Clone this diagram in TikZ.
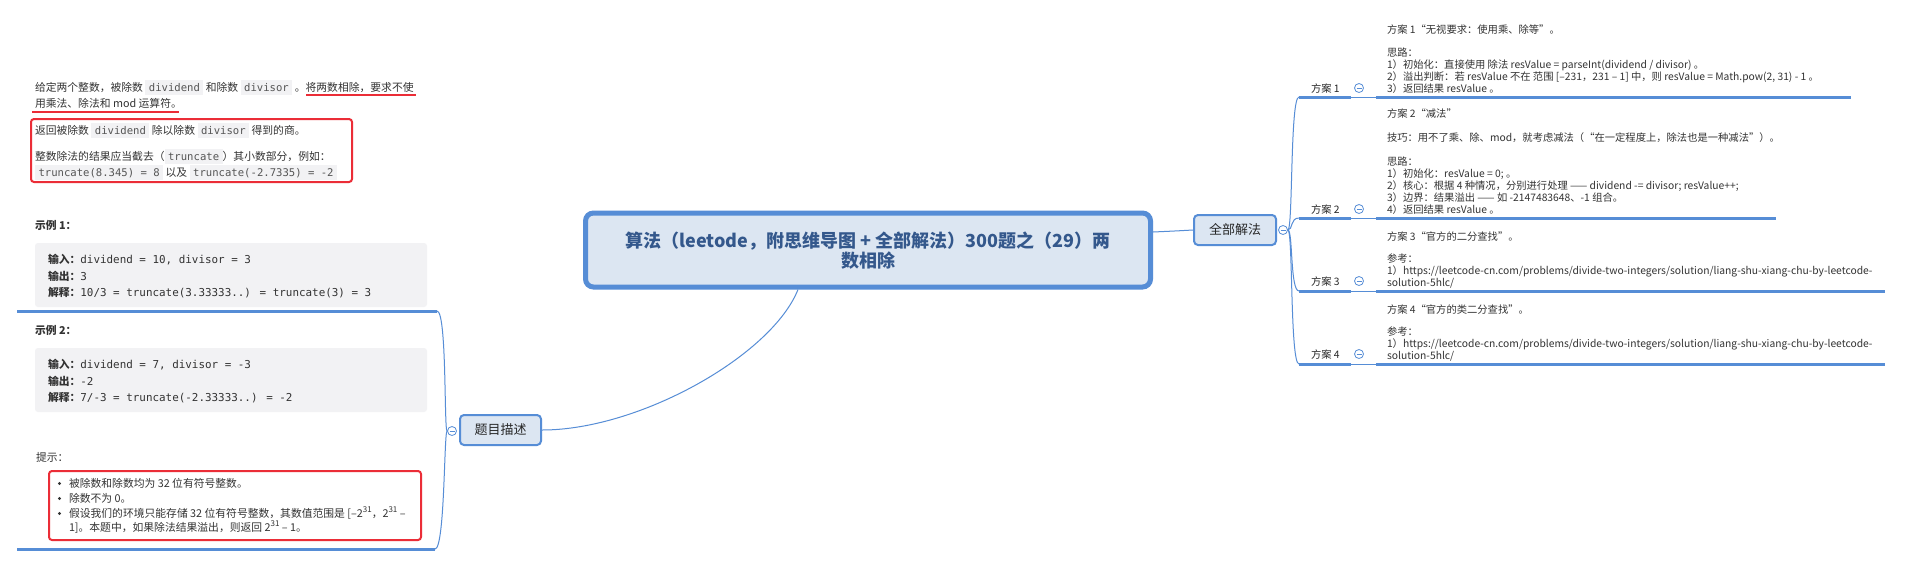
\documentclass[tikz,border=0pt]{standalone}
\usepackage{fontspec}
\setmainfont{Noto Sans CJK SC}
\newfontfamily\monof{DejaVu Sans Mono}
\definecolor{mmblue}{RGB}{86,141,214}
\definecolor{mmfill}{RGB}{220,230,242}
\definecolor{titleblue}{RGB}{52,88,140}
\definecolor{txt}{RGB}{51,51,51}
\definecolor{codetxt}{RGB}{85,85,85}
\definecolor{codebg}{RGB}{242,242,244}
\definecolor{redl}{RGB}{235,45,55}
\newcommand\code[1]{{\setlength\fboxsep{0pt}\colorbox{codebg}{\rule[-4pt]{0pt}{15pt}\hspace{3.5pt}{\monof\fontsize{10.6}{12}\selectfont\color{codetxt}#1}\hspace{3.5pt}}}}
\newcommand\sups[1]{\raisebox{4.5pt}{\fontsize{8}{8}\selectfont #1}}
\newcommand\mt[1]{{\monof\fontsize{10.9}{13}\selectfont #1}}
\tikzset{
  lt/.style={anchor=base west, inner sep=0pt, outer sep=0pt, text=txt, font=\fontsize{10.8}{13}\selectfont},
  rt/.style={anchor=base west, inner sep=0pt, outer sep=0pt, text=txt, font=\fontsize{10.3}{12}\selectfont},
  topic/.style={draw=mmblue, line width=2pt, fill=mmfill, rounded corners=4pt, inner sep=0pt, font=\fontsize{13}{15}\selectfont, text=black!85},
  fold/.style={circle, draw=mmblue, fill=white, line width=0.8pt, minimum size=9pt, inner sep=0pt,
    path picture={\draw[mmblue,line width=0.8pt] ([xshift=-2.5pt]path picture bounding box.center) -- ([xshift=2.5pt]path picture bounding box.center);}},
  bulletdot/.style={circle, fill=txt, inner sep=0pt, minimum size=3.4pt},
  uline/.style={mmblue, line width=3pt},
  thinline/.style={mmblue, line width=0.7pt},
  branch/.style={mmblue, line width=1pt},
  redmark/.style={redl, line width=2pt},
}
\begin{document}
\begin{tikzpicture}[x=1pt,y=-1pt]
\useasboundingbox (0,0) rectangle (1909,566);
\fill[white] (0,0) rectangle (1909,566);

% ---------- central topic ----------
\node[draw=mmblue, line width=5pt, fill=mmfill, rounded corners=8pt, minimum width=565pt, minimum height=74pt, inner sep=0pt] (root) at (868,250) {};
\node[anchor=base, inner sep=0pt, font=\fontsize{18}{20}\selectfont\bfseries, text=titleblue] (t1) at (868,247) {算法（leetode，附思维导图 + 全部解法）300题之（29）两};
\node[anchor=base, inner sep=0pt, font=\fontsize{18}{20}\selectfont\bfseries, text=titleblue] (t2) at (868,267) {数相除};

% ---------- main topics ----------
\node[topic, minimum width=81pt, minimum height=30pt] (desc) at (500.5,430) {题目描述};
\node[topic, minimum width=82pt, minimum height=30pt] (all) at (1235,230) {全部解法};
\node[fold] (fd) at (452,431) {};
\node[fold] (fa) at (1283,230) {};

\draw[branch] ([xshift=-70pt]root.south) .. controls (772,355) and (640,430) .. (desc.east);
\draw[branch] ([yshift=18pt]root.east) .. controls (1175,231) .. (all.west);

% ---------- left children ----------
\coordinate (lu1) at (437,311);
\coordinate (lu2) at (435,549);
\draw[branch] (fd.west) .. controls (444,431) and (447,311) .. (lu1);
\draw[branch] (fd.west) .. controls (444,431) and (445,549) .. (lu2);
\draw[uline] (lu1) -- (17,311);
\draw[uline] (lu2) -- (17,549);

% child 1 text
\node[lt] (d1) at (35,91) {给定两个整数，被除数 \code{dividend} 和除数 \code{divisor} 。将两数相除，要求不使};
\node[lt] (d2) at (35,107) {用乘法、除法和 mod 运算符。};
\draw[redmark] (306,95) -- (416,95);
\draw[redmark] (32,112) -- (179,112);
\draw[redl, line width=2pt, rounded corners=3pt] (31,119) rectangle (352,182);
\node[lt] (d3) at (35,134) {返回被除数 \code{dividend} 除以除数 \code{divisor} 得到的商。};
\node[lt] (d4) at (35,160) {整数除法的结果应当截去（\code{truncate}）其小数部分，例如：};
\node[lt] (d5) at (35,176) {\code{truncate(8.345) = 8} 以及 \code{truncate(-2.7335) = -2}};

\node[lt, font=\fontsize{10.8}{13}\selectfont\bfseries] (e1) at (35,229) {示例 1：};
\fill[codebg, rounded corners=3pt] (35,243) rectangle (427,307);
\node[lt] (e1a) at (48,263) {{\bfseries 输入：}\mt{dividend = 10, divisor = 3}};
\node[lt] (e1b) at (48,280) {{\bfseries 输出：}\mt{3}};
\node[lt] (e1c) at (48,296) {{\bfseries 解释：}\mt{10/3 = truncate(3.33333..) = truncate(3) = 3}};

% child 2 text
\node[lt, font=\fontsize{10.8}{13}\selectfont\bfseries] (e2) at (35,334) {示例 2：};
\fill[codebg, rounded corners=3pt] (35,348) rectangle (427,412);
\node[lt] (e2a) at (48,368) {{\bfseries 输入：}\mt{dividend = 7, divisor = -3}};
\node[lt] (e2b) at (48,385) {{\bfseries 输出：}\mt{-2}};
\node[lt] (e2c) at (48,401) {{\bfseries 解释：}\mt{7/-3 = truncate(-2.33333..) = -2}};

\node[lt] (h0) at (36,461) {提示：};
\draw[redl, line width=2pt, rounded corners=3pt] (49,471) rectangle (421,540);
\node[bulletdot] (b1) at (59.5,483.5) {};
\node[lt] (h1) at (69,487) {被除数和除数均为 32 位有符号整数。};
\node[bulletdot] (b2) at (59.5,498.5) {};
\node[lt] (h2) at (69,502) {除数不为 0。};
\node[bulletdot] (b3) at (59.5,513.5) {};
\node[lt] (h3) at (69,517) {假设我们的环境只能存储 32 位有符号整数，其数值范围是 [–2\sups{31}，2\sups{31} –};
\node[lt] (h4) at (69,531) {1]。本题中，如果除法结果溢出，则返回 2\sups{31} – 1。};

% ---------- right children ----------
\node[rt, text=black!85] (s1) at (1311,92) {方案 1};
\node[rt, text=black!85] (s2) at (1311,213) {方案 2};
\node[rt, text=black!85] (s3) at (1311,285) {方案 3};
\node[rt, text=black!85] (s4) at (1311,358) {方案 4};
\node[fold] (f1) at (1359,88) {};
\node[fold] (f2) at (1359,209) {};
\node[fold] (f3) at (1359,281) {};
\node[fold] (f4) at (1359,354) {};

\coordinate (u1) at (1299,97);
\coordinate (u2) at (1299,218);
\coordinate (u3) at (1299,291);
\coordinate (u4) at (1299,364);
\draw[branch] (fa.east) .. controls (1293,230) and (1290,97) .. (u1);
\draw[branch] (fa.east) .. controls (1293,230) and (1290,218) .. (u2);
\draw[branch] (fa.east) .. controls (1293,230) and (1290,291) .. (u3);
\draw[branch] (fa.east) .. controls (1293,230) and (1290,364) .. (u4);

\foreach \yy/\xe in {97/1851, 218/1776, 291/1885, 364/1885}{
  \draw[uline] (1299,\yy) -- (1351,\yy);
  \draw[thinline] (1351,\yy) -- (1376,\yy);
  \draw[uline] (1376,\yy) -- (\xe,\yy);
}

% solution 1
\node[rt] (p1a) at (1387,33) {方案 1“无视要求：使用乘、除等”。};
\node[rt] (p1b) at (1387,56) {思路：};
\node[rt] (p1c) at (1387,68) {1）初始化：直接使用 除法 resValue = parseInt(dividend / divisor) 。};
\node[rt] (p1d) at (1387,80) {2）溢出判断：若 resValue 不在 范围 [–231，231 – 1] 中，则 resValue = Math.pow(2, 31) - 1 。};
\node[rt] (p1e) at (1387,92) {3）返回结果 resValue 。};
% solution 2
\node[rt] (p2a) at (1387,117) {方案 2“减法”};
\node[rt] (p2b) at (1387,141) {技巧：用不了乘、除、mod，就考虑减法（“在一定程度上，除法也是一种减法”）。};
\node[rt] (p2c) at (1387,165) {思路：};
\node[rt] (p2d) at (1387,177) {1）初始化：resValue = 0; 。};
\node[rt] (p2e) at (1387,189) {2）核心：根据 4 种情况，分别进行处理 —— dividend -= divisor; resValue++;};
\node[rt] (p2f) at (1387,201) {3）边界：结果溢出 —— 如 -2147483648、-1 组合。};
\node[rt] (p2g) at (1387,213) {4）返回结果 resValue 。};
% solution 3
\node[rt] (p3a) at (1387,240) {方案 3“官方的二分查找”。};
\node[rt] (p3b) at (1387,262) {参考：};
\node[rt] (p3c) at (1387,274) {1）https://leetcode-cn.com/problems/divide-two-integers/solution/liang-shu-xiang-chu-by-leetcode-};
\node[rt] (p3d) at (1387,286) {solution-5hlc/};
% solution 4
\node[rt] (p4a) at (1387,313) {方案 4“官方的类二分查找”。};
\node[rt] (p4b) at (1387,335) {参考：};
\node[rt] (p4c) at (1387,347) {1）https://leetcode-cn.com/problems/divide-two-integers/solution/liang-shu-xiang-chu-by-leetcode-};
\node[rt] (p4d) at (1387,359) {solution-5hlc/};
\end{tikzpicture}
\end{document}
